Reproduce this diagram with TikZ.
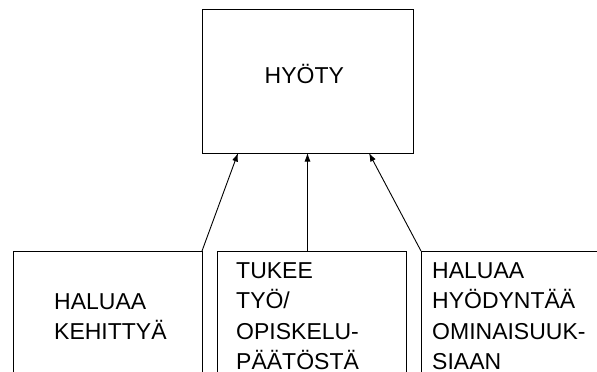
\documentclass[tikz,border=0pt]{standalone}
\usepackage{fontspec}
\setmainfont{Liberation Sans}
\usetikzlibrary{arrows.meta}

\tikzset{
    box/.style={draw, line width=1pt, inner sep=0pt, outer sep=0pt},
    txt/.style={font=\fontsize{23}{30.5}\selectfont, align=left, inner sep=0pt, anchor=north west},
    arr/.style={-{Latex[length=8.5pt,width=6pt]}, line width=0.9pt}
}

\begin{document}
\begin{tikzpicture}[x=1pt, y=-1pt]
    \useasboundingbox (0,0) rectangle (597,372);
    \clip (0,0) rectangle (597,372);

    % Top box
    \node[box, minimum width=211pt, minimum height=144pt] (hyoty) at (307.5,81) {};
    \node[txt, anchor=base] (hyotyText) at (304.3,83.3) {HYÖTY};

    % Bottom boxes, running off the lower edge
    \node[box, minimum width=189pt, minimum height=149pt] (kehitys) at (107.5,325.5) {};
    \node[box, minimum width=189pt, minimum height=149pt] (paatos) at (311.5,325.5) {};
    \node[box, minimum width=199pt, minimum height=149pt] (ominaisuudet) at (520.5,325.5) {};

    \node[txt] (kehitysText) at (54,293) {HALUAA\\KEHITTYÄ};
    \node[txt] (paatosText) at (236,262) {TUKEE\\TYÖ/\\OPISKELU-\\PÄÄTÖSTÄ};
    \node[txt] (ominaisuudetText) at (432,262) {HALUAA\\HYÖDYNTÄÄ\\OMINAISUUK-\\SIAAN};

    % Arrows up to the top box
    \draw[arr] (kehitys.north east) -- ([xshift=-69.5pt]hyoty.south);
    \draw[arr] (hyoty.south |- paatos.north) -- (hyoty.south);
    \draw[arr] (ominaisuudet.north west) -- ([xshift=61.5pt]hyoty.south);
\end{tikzpicture}
\end{document}
